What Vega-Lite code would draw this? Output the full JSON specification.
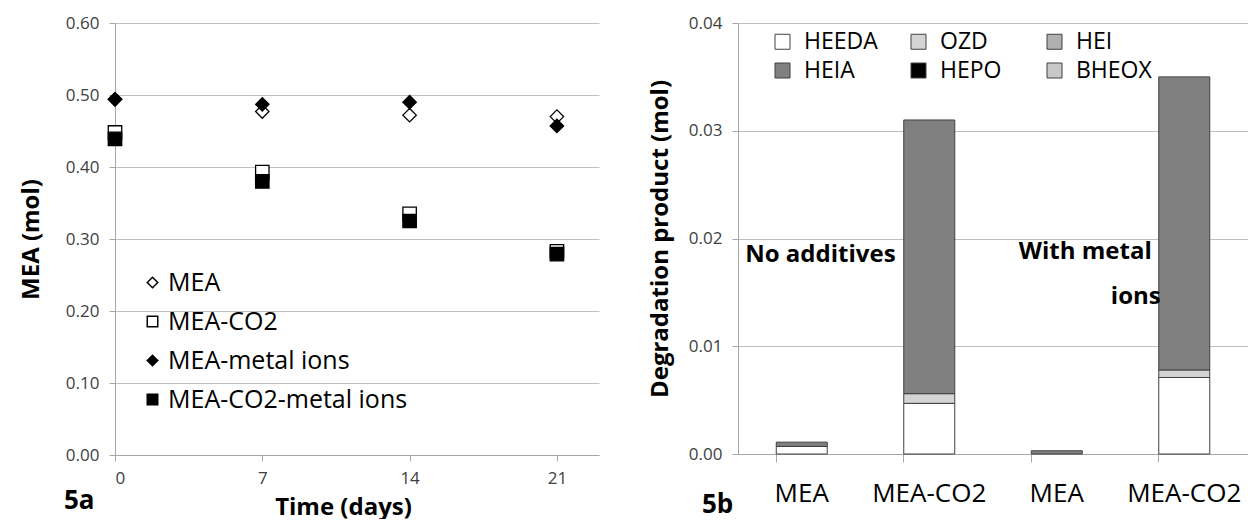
{
  "$schema": "https://vega.github.io/schema/vega-lite/v6.json",
  "padding": {"left": 19, "top": 14, "right": 0, "bottom": 0},
  "spacing": 49,
  "resolve": {"scale": {"fill": "independent", "shape": "independent", "x": "independent", "y": "independent"}, "legend": {"fill": "independent", "shape": "independent"}},
  "config": {
    "view": {"stroke": null},
    "font": "Open Sans",
    "axis": {"labelColor": "#404040", "titleColor": "#000000", "domainColor": "#a6a6a6", "tickColor": "#a6a6a6", "gridColor": "#c0c0c0", "titleFontWeight": "bold", "labelFont": "Open Sans", "titleFont": "Open Sans"},
    "legend": {"labelFont": "Open Sans", "labelColor": "#000000", "labelLimit": 400}
  },
  "hconcat": [
    {
      "width": 484,
      "height": 432,
      "title": {"text": "5a", "orient": "bottom", "anchor": "start", "frame": "group", "fontSize": 26, "fontWeight": "bold", "font": "Open Sans", "dx": -51, "offset": -31, "color": "#000000"},
      "data": {"values": [
        {"day": 0, "series": "MEA", "mol": 0.494},
        {"day": 7, "series": "MEA", "mol": 0.477},
        {"day": 14, "series": "MEA", "mol": 0.472},
        {"day": 21, "series": "MEA", "mol": 0.470},
        {"day": 0, "series": "MEA-CO2", "mol": 0.448},
        {"day": 7, "series": "MEA-CO2", "mol": 0.393},
        {"day": 14, "series": "MEA-CO2", "mol": 0.335},
        {"day": 21, "series": "MEA-CO2", "mol": 0.283},
        {"day": 0, "series": "MEA-metal ions", "mol": 0.494},
        {"day": 7, "series": "MEA-metal ions", "mol": 0.487},
        {"day": 14, "series": "MEA-metal ions", "mol": 0.490},
        {"day": 21, "series": "MEA-metal ions", "mol": 0.457},
        {"day": 0, "series": "MEA-CO2-metal ions", "mol": 0.439},
        {"day": 7, "series": "MEA-CO2-metal ions", "mol": 0.380},
        {"day": 14, "series": "MEA-CO2-metal ions", "mol": 0.325},
        {"day": 21, "series": "MEA-CO2-metal ions", "mol": 0.279}
      ]},
      "mark": {"type": "point", "filled": true, "stroke": "#000000", "strokeWidth": 1.3, "opacity": 1, "size": 180},
      "encoding": {
        "x": {"field": "day", "type": "quantitative", "scale": {"domain": [0, 23], "nice": false, "zero": false},
          "axis": {"values": [0, 7, 14, 21], "grid": false, "title": "Time (days)", "titleFontSize": 24, "labelFontSize": 17, "tickSize": 6, "labelPadding": 9, "titlePadding": 9, "titleX": 228}},
        "y": {"field": "mol", "type": "quantitative", "scale": {"domain": [0, 0.6], "nice": false},
          "axis": {"values": [0, 0.1, 0.2, 0.3, 0.4, 0.5, 0.6], "format": ".2f", "title": "MEA (mol)", "titleFontSize": 24, "labelFontSize": 17, "tickSize": 6, "labelPadding": 10, "titlePadding": 22}},
        "shape": {"field": "series", "type": "nominal",
          "scale": {"domain": ["MEA", "MEA-CO2", "MEA-metal ions", "MEA-CO2-metal ions"], "range": ["diamond", "square", "diamond", "square"]},
          "legend": {"title": null, "orient": "none", "legendX": 25, "legendY": 247, "labelFontSize": 25, "symbolSize": 110, "labelOffset": 3, "rowPadding": 13,
            "encode": {"symbols": {"update": {"stroke": {"value": "#000000"}, "strokeWidth": {"value": 1.2}}}}}},
        "fill": {"field": "series", "type": "nominal",
          "scale": {"domain": ["MEA", "MEA-CO2", "MEA-metal ions", "MEA-CO2-metal ions"], "range": ["#ffffff", "#ffffff", "#000000", "#000000"]},
          "legend": {"title": null, "orient": "none", "legendX": 25, "legendY": 247, "labelFontSize": 25, "symbolSize": 110, "labelOffset": 3, "rowPadding": 13,
            "encode": {"symbols": {"update": {"stroke": {"value": "#000000"}, "strokeWidth": {"value": 1.2}}}}}}
      }
    },
    {
      "width": 510,
      "height": 431,
      "title": {"text": "5b", "orient": "bottom", "anchor": "start", "frame": "group", "fontSize": 26, "fontWeight": "bold", "font": "Open Sans", "dx": -36, "offset": -14, "color": "#000000"},
      "layer": [
        {
          "data": {"values": [
            {"cat": "1 MEA", "product": "HEEDA", "k": 1, "mol": 0.0007},
            {"cat": "1 MEA", "product": "HEIA", "k": 4, "mol": 0.0004},
            {"cat": "2 MEA-CO2", "product": "HEEDA", "k": 1, "mol": 0.0047},
            {"cat": "2 MEA-CO2", "product": "OZD", "k": 2, "mol": 0.0009},
            {"cat": "2 MEA-CO2", "product": "HEIA", "k": 4, "mol": 0.0254},
            {"cat": "3 MEA", "product": "HEIA", "k": 4, "mol": 0.0003},
            {"cat": "4 MEA-CO2", "product": "HEEDA", "k": 1, "mol": 0.0071},
            {"cat": "4 MEA-CO2", "product": "OZD", "k": 2, "mol": 0.0007},
            {"cat": "4 MEA-CO2", "product": "HEIA", "k": 4, "mol": 0.0272}
          ]},
          "mark": {"type": "bar", "stroke": "#404040", "strokeWidth": 1},
          "encoding": {
            "x": {"field": "cat", "type": "nominal", "sort": null,
              "scale": {"type": "band", "paddingInner": 0.6, "paddingOuter": 0.3},
              "axis": {"title": null, "labelExpr": "slice(datum.value, 2)", "labelAngle": 0, "labelFontSize": 26, "labelColor": "#000000", "bandPosition": 0, "tickSize": 8, "labelPadding": 18}},
            "y": {"field": "mol", "type": "quantitative", "stack": "zero", "scale": {"domain": [0, 0.04], "nice": false},
              "axis": {"values": [0, 0.01, 0.02, 0.03, 0.04], "format": ".2f", "title": "Degradation product (mol)", "titleFontSize": 24, "labelFontSize": 17, "tickSize": 6, "labelPadding": 10, "titlePadding": 16}},
            "order": {"field": "k", "type": "quantitative"},
            "fill": {"field": "product", "type": "nominal",
              "scale": {"domain": ["HEEDA", "OZD", "HEI", "HEIA", "HEPO", "BHEOX"], "range": ["#ffffff", "#d4d4d4", "#b0b0b0", "#808080", "#000000", "#c8c8c8"]},
              "legend": {"title": null, "orient": "none", "direction": "horizontal", "gridAlign": "all", "legendX": 33, "legendY": 7, "columns": 3, "columnPadding": 27, "rowPadding": 5, "labelFontSize": 23, "symbolType": "square", "symbolSize": 225, "symbolStrokeColor": "#404040", "symbolStrokeWidth": 1, "labelOffset": 10}}
          }
        },
        {
          "data": {"values": [{"cat": "1 MEA", "mol": 0.0185, "label": "No additives"}]},
          "mark": {"type": "text", "align": "left", "baseline": "middle", "dx": -31, "fontSize": 24, "fontWeight": "bold", "font": "Open Sans", "color": "#000000"},
          "encoding": {"x": {"field": "cat", "type": "nominal", "bandPosition": 0}, "y": {"field": "mol", "type": "quantitative"}, "text": {"field": "label"}}
        },
        {
          "data": {"values": [{"cat": "4 MEA-CO2", "mol": 0.01875, "label": "With metal"}]},
          "mark": {"type": "text", "align": "right", "baseline": "middle", "dx": -7, "fontSize": 24, "fontWeight": "bold", "font": "Open Sans", "color": "#000000"},
          "encoding": {"x": {"field": "cat", "type": "nominal", "bandPosition": 0}, "y": {"field": "mol", "type": "quantitative"}, "text": {"field": "label"}}
        },
        {
          "data": {"values": [{"cat": "4 MEA-CO2", "mol": 0.01455, "label": "ions"}]},
          "mark": {"type": "text", "align": "right", "baseline": "middle", "dx": 2, "fontSize": 24, "fontWeight": "bold", "font": "Open Sans", "color": "#000000"},
          "encoding": {"x": {"field": "cat", "type": "nominal", "bandPosition": 0}, "y": {"field": "mol", "type": "quantitative"}, "text": {"field": "label"}}
        }
      ]
    }
  ]
}
